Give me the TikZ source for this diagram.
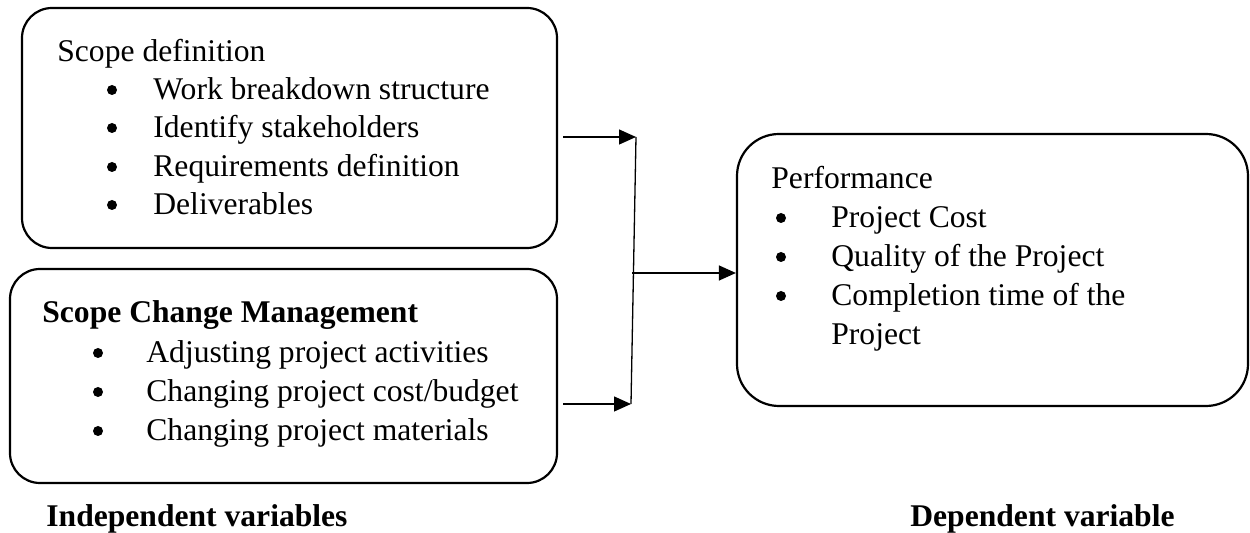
\documentclass[tikz,border=0pt]{standalone}
\usepackage{fontspec}
\setmainfont{Liberation Serif}
\usepackage{tikz}
\usetikzlibrary{positioning,arrows.meta}
\newcommand{\boxfont}{\fontsize{15.8pt}{19pt}\selectfont}
\tikzset{
  varbox/.style   = {draw, line width=1.1pt, inner sep=0pt},
  headlbl/.style  = {anchor=base west, inner sep=0pt, font=\boxfont},
  itemlbl/.style  = {anchor=base west, inner sep=0pt, font=\boxfont},
  dotlbl/.style   = {circle, fill, inner sep=0pt, minimum size=5pt},
  captlbl/.style  = {inner sep=0pt, font=\boxfont\bfseries},
  linkedge/.style = {-{Triangle[length=8.5pt,width=7.5pt]}, line width=0.65pt},
  joinedge/.style = {line width=0.65pt}
}

\begin{document}
\begin{tikzpicture}[x=0.5pt, y=-0.5pt]
  \useasboundingbox (0,0) rectangle (1250,533);
  % Boxes
  \node[varbox, rounded corners=15pt, minimum width=267.5pt, minimum height=120pt]
        (defbox) at (289.5,128) {};
  \node[varbox, rounded corners=15pt, minimum width=273.5pt, minimum height=107pt]
        (chgbox) at (283.5,376) {};
  \node[varbox, rounded corners=21pt, minimum width=255.5pt, minimum height=136pt]
        (perfbox) at (992.5,270) {};
  % Scope definition
  \node[headlbl] (defhead) at (57,62) {Scope definition};
  \node[dotlbl]  (defd1) at (112,90)  {};
  \node[itemlbl] (defi1) at (153,100) {Work breakdown structure};
  \node[dotlbl]  (defd2) at (112,128) {};
  \node[itemlbl] (defi2) at (153,138) {Identify stakeholders};
  \node[dotlbl]  (defd3) at (112,167) {};
  \node[itemlbl] (defi3) at (153,177) {Requirements definition};
  \node[dotlbl]  (defd4) at (112,205) {};
  \node[itemlbl] (defi4) at (153,215) {Deliverables};
  % Scope change management
  \node[headlbl, font=\boxfont\bfseries] (chghead) at (42,323) {Scope Change Management};
  \node[dotlbl]  (chgd1) at (98,353) {};
  \node[itemlbl] (chgi1) at (146,363) {Adjusting project activities};
  \node[dotlbl]  (chgd2) at (98,392) {};
  \node[itemlbl] (chgi2) at (146,402) {Changing project cost/budget};
  \node[dotlbl]  (chgd3) at (98,431) {};
  \node[itemlbl] (chgi3) at (146,441) {Changing project materials};
  % Performance
  \node[headlbl] (perfhead) at (771,189) {Performance};
  \node[dotlbl]  (perfd1) at (781,218) {};
  \node[itemlbl] (perfi1) at (831,228) {Project Cost};
  \node[dotlbl]  (perfd2) at (781,257) {};
  \node[itemlbl] (perfi2) at (831,267) {Quality of the Project};
  \node[dotlbl]  (perfd3) at (781,296) {};
  \node[itemlbl] (perfi3) at (831,306) {Completion time of the};
  \node[itemlbl] (perfi4) at (831,345) {Project};
  % Captions under the boxes
  \node[captlbl, anchor=base west] (indep) at (46,527) {Independent variables};
  \node[captlbl, anchor=base east] (dep)   at (1175,527) {Dependent variable};
  % Arrows
  \coordinate (a1) at (563,137);
  \coordinate (j1) at (636,137);
  \coordinate (a2) at (563,404);
  \coordinate (j2) at (631,404);
  \coordinate (jm) at (632,273);
  \draw[linkedge] (a1) -- (j1);
  \draw[linkedge] (a2) -- (j2);
  \draw[joinedge] (j1) -- (j2);
  \draw[linkedge] (jm) -- (jm -| perfbox.west);
\end{tikzpicture}
\end{document}
